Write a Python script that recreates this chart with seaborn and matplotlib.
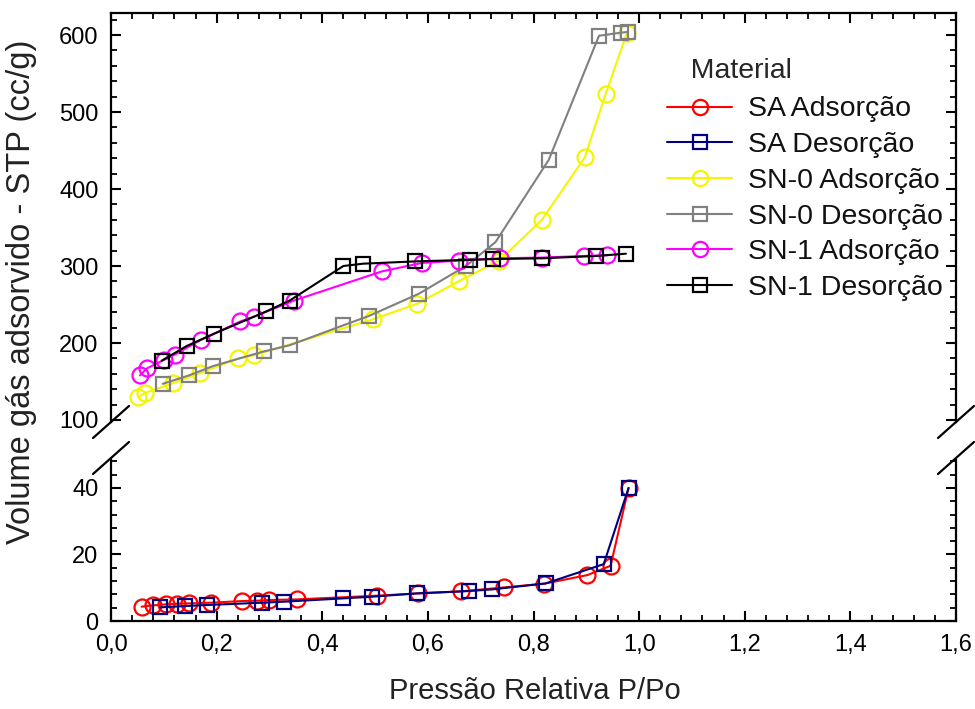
import matplotlib
matplotlib.use("Agg")
import matplotlib.pyplot as plt
import seaborn as sns
import numpy as np
from matplotlib.ticker import MultipleLocator, FuncFormatter
from matplotlib.lines import Line2D

# ---------------- data ----------------
sa_ads_x = [0.058, 0.08, 0.105, 0.125, 0.148, 0.19, 0.248, 0.276, 0.30, 0.352, 0.503, 0.582, 0.662, 0.744, 0.82, 0.902, 0.946, 0.98]
sa_ads_y = [4.3, 4.7, 5.0, 5.2, 5.3, 5.5, 6.0, 6.1, 6.3, 6.5, 7.6, 8.3, 8.9, 10.1, 11.2, 13.8, 16.6, 40.0]

sa_des_x = [0.093, 0.14, 0.181, 0.286, 0.327, 0.44, 0.494, 0.579, 0.677, 0.722, 0.823, 0.933, 0.98]
sa_des_y = [4.1, 4.5, 4.8, 5.5, 5.8, 6.8, 7.3, 8.3, 9.0, 9.5, 11.3, 17.1, 40.0]

sn0_ads_x = [0.052, 0.064, 0.118, 0.169, 0.241, 0.27, 0.497, 0.58, 0.658, 0.735, 0.816, 0.897, 0.937, 0.977]
sn0_ads_y = [130, 135, 148, 161, 180, 184, 231, 251, 280, 307, 360, 441, 524, 603]

sn0_des_x = [0.098, 0.148, 0.193, 0.289, 0.338, 0.44, 0.488, 0.583, 0.672, 0.728, 0.829, 0.924, 0.965, 0.978]
sn0_des_y = [147, 158, 170, 189, 197, 223, 235, 264, 300, 331, 438, 599, 603, 604]

sn1_ads_x = [0.055, 0.068, 0.10, 0.121, 0.17, 0.245, 0.27, 0.346, 0.513, 0.589, 0.658, 0.737, 0.816, 0.895, 0.94]
sn1_ads_y = [158, 167, 178, 185, 204, 228, 234, 255, 293, 304, 307, 310, 311, 313, 314]

sn1_des_x = [0.096, 0.143, 0.195, 0.294, 0.338, 0.44, 0.477, 0.576, 0.679, 0.723, 0.816, 0.918, 0.975]
sn1_des_y = [177, 196, 212, 241, 255, 300, 303, 306, 308, 309, 310, 313, 316]

labels = ["SA Adsorção", "SA Desorção", "SN-0 Adsorção", "SN-0 Desorção", "SN-1 Adsorção", "SN-1 Desorção"]
colors = ["#ff0000", "#000080", "#f5f500", "#808080", "#ff00ff", "#000000"]
markers = ["o", "s", "o", "s", "o", "s"]

xlabel = "Pressão Relativa P/Po"
ylabel = "Volume gás adsorvido - STP (cc/g)"
legend_title = "Material"

# ---------------- style ----------------
sns.set_theme(style="ticks")
plt.rcParams["font.family"] = ["Liberation Sans", "DejaVu Sans"]
narrow = ["Liberation Sans Narrow", "Liberation Sans", "DejaVu Sans"]

W, H = 975, 709
fig = plt.figure(figsize=(W / 100, H / 100), dpi=100)
fig.patch.set_facecolor("white")

L, R = 111, 956
top_t, top_b = 13, 422
bot_t, bot_b = 460, 621

ax_top = fig.add_axes([L / W, 1 - top_b / H, (R - L) / W, (top_b - top_t) / H])
ax_bot = fig.add_axes([L / W, 1 - bot_b / H, (R - L) / W, (bot_b - bot_t) / H])

series = [
    (ax_bot, sa_ads_x, sa_ads_y),
    (ax_bot, sa_des_x, sa_des_y),
    (ax_top, sn0_ads_x, sn0_ads_y),
    (ax_top, sn0_des_x, sn0_des_y),
    (ax_top, sn1_ads_x, sn1_ads_y),
    (ax_top, sn1_des_x, sn1_des_y),
]

handles = []
for (ax, xs, ys), lab, col, mk in zip(series, labels, colors, markers):
    ms = 11.5 if mk == "o" else 10
    sns.lineplot(x=xs, y=ys, ax=ax, color=col, marker=mk, markersize=ms,
                 markerfacecolor="none", markeredgecolor=col, markeredgewidth=1.6,
                 linewidth=1.5, sort=False, estimator=None, legend=False)
    handles.append(Line2D([], [], color=col, marker=mk, markersize=ms - 0.5,
                          markerfacecolor="none", markeredgecolor=col,
                          markeredgewidth=1.6, linewidth=1.5, label=lab))

comma = FuncFormatter(lambda v, p: f"{v:.1f}".replace(".", ","))
intfmt = FuncFormatter(lambda v, p: f"{v:.0f}")

for ax in (ax_top, ax_bot):
    ax.set_xlim(0, 1.6)
    ax.xaxis.set_major_locator(MultipleLocator(0.2))
    ax.xaxis.set_minor_locator(MultipleLocator(0.04))
    for s in ax.spines.values():
        s.set_linewidth(1.6)
        s.set_color("black")
    ax.set_xlabel("")
    ax.set_ylabel("")
    ax.set_facecolor("white")

ax_top.set_ylim(97.4, 628.6)
ax_top.yaxis.set_major_locator(MultipleLocator(100))
ax_top.yaxis.set_minor_locator(MultipleLocator(20))
ax_top.yaxis.set_major_formatter(intfmt)
ax_top.spines["bottom"].set_visible(False)
ax_top.tick_params(axis="x", which="both", bottom=False, labelbottom=False, top=True, direction="in")
ax_top.tick_params(axis="y", which="both", left=True, right=True, direction="in")

ax_bot.set_ylim(0, 48.4)
ax_bot.yaxis.set_major_locator(MultipleLocator(20))
ax_bot.yaxis.set_minor_locator(MultipleLocator(4))
ax_bot.yaxis.set_major_formatter(intfmt)
ax_bot.xaxis.set_major_formatter(comma)
ax_bot.spines["top"].set_visible(False)
ax_bot.tick_params(axis="x", which="both", top=False, bottom=True, direction="in")
ax_bot.tick_params(axis="y", which="both", left=True, right=True, direction="in")

for ax in (ax_top, ax_bot):
    ax.tick_params(which="major", length=7, width=1.5, color="black", pad=9, labelsize=17)
    ax.tick_params(which="minor", length=4, width=1.3, color="black")
    for t in ax.get_xticklabels() + ax.get_yticklabels():
        t.set_fontfamily(narrow)
        t.set_color("black")

# break marks
def brk(xp, yp):
    dx, dy = 18, 16
    fig.add_artist(Line2D([(xp - dx) / W, (xp + dx) / W], [1 - (yp + dy) / H, 1 - (yp - dy) / H],
                          transform=fig.transFigure, color="black", lw=1.6, clip_on=False))

for xp in (L, R):
    brk(xp, top_b)
    brk(xp, bot_t - 2)

# labels
fig.text(535 / W, 1 - 691 / H, xlabel, ha="center", va="center", fontsize=21,
         family=narrow, color="#222222")
fig.text(22 / W, 1 - 292 / H, ylabel, ha="center", va="center", rotation=90, fontsize=23.5,
         family=narrow, color="#222222")

leg = ax_top.legend(handles=handles, title="   " + legend_title, loc="upper left",
                    bbox_to_anchor=((667 - L) / (R - L), (top_b - 58) / (top_b - top_t)),
                    frameon=False, fontsize=20.5, title_fontsize=20.5, handlelength=2.3,
                    handletextpad=0.55, labelspacing=0.34, borderpad=0, borderaxespad=0,
                    alignment="left")
leg._legend_box.sep = 9
for t in leg.get_texts():
    t.set_color("#111111")

fig.savefig("out.png", dpi=100, facecolor="white")
